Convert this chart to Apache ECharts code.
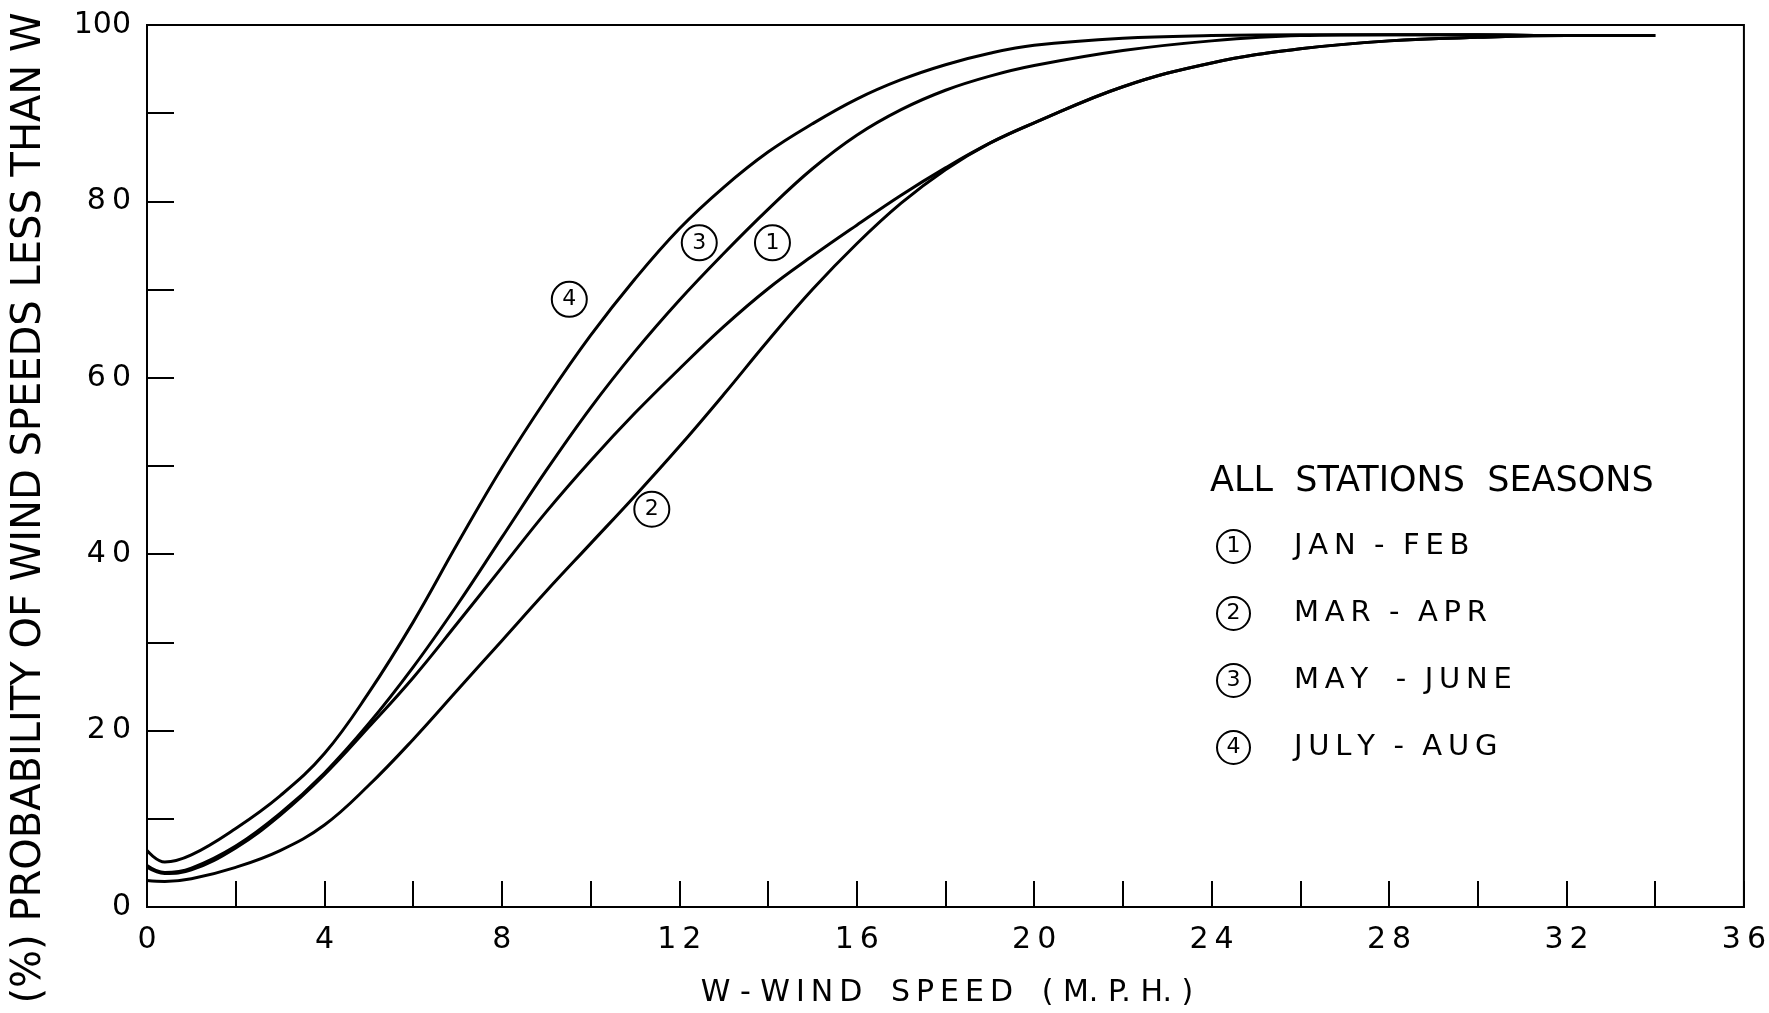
<!DOCTYPE html>
<html>
<head>
<meta charset="utf-8">
<title>Probability of wind speeds less than W</title>
<script src="https://cdn.jsdelivr.net/npm/echarts@6/dist/echarts.min.js"></script>
<style>
  html, body { margin: 0; padding: 0; background: #fff; }
  #chart { width: 1769px; height: 1013px; }
</style>
</head>
<body>
<div id="chart"></div>
<script>
// Wind speed W (m.p.h.) at which each seasonal curve is sampled
const windSpeed = [0, 0.4, 1, 2, 3, 4, 5, 6, 7, 8, 9, 10, 11, 12, 13, 14, 15, 16, 17, 18, 19, 20, 22, 24, 26, 28, 30, 32, 34];

// Cumulative probability (%) of wind speeds less than W, per season
const janFeb  = [4.5, 3.8, 4.2, 6.7, 10.4, 15.0, 20.4, 26.0, 32.2, 38.5, 44.8, 50.6, 56.0, 61.0, 65.8, 70.1, 73.8, 77.3, 80.7, 83.8, 86.6, 88.9, 93.0, 95.7, 97.3, 98.2, 98.6, 98.8, 98.8];
const marApr  = [3.0, 2.9, 3.2, 4.5, 6.4, 9.3, 13.8, 19.0, 24.6, 30.2, 35.8, 41.2, 46.6, 52.2, 58.1, 64.2, 70.0, 75.2, 79.8, 83.6, 86.6, 88.9, 93.0, 95.7, 97.3, 98.2, 98.6, 98.8, 98.8];
const mayJune = [4.7, 3.9, 4.4, 6.9, 10.6, 15.2, 20.8, 27.2, 34.3, 41.9, 49.5, 56.6, 63.0, 68.8, 74.1, 79.1, 83.7, 87.5, 90.4, 92.6, 94.2, 95.4, 97.1, 98.2, 98.8, 98.9, 98.9, 98.8, 98.8];
const julyAug = [6.4, 5.1, 5.9, 8.9, 12.6, 17.4, 24.3, 32.3, 41.2, 49.8, 57.6, 64.8, 71.2, 76.9, 81.6, 85.6, 88.8, 91.6, 93.8, 95.5, 96.8, 97.7, 98.5, 98.8, 98.9, 98.9, 98.9, 98.8, 98.8];

const seasonNames  = ['JAN - FEB', 'MAR - APR', 'MAY - JUNE', 'JULY - AUG'];
const seasonNumber = ['1', '2', '3', '4'];
const seasonValues = [janFeb, marApr, mayJune, julyAug];

// Tick labels
const xTickLabels = ['0', '4', '8', '12', '16', '20', '24', '28', '32', '36'];
const yTickLabels = ['0', '20', '40', '60', '80', '100'];

// Where each circled curve number sits, in chart units [W, %]
const curveTagAt = [[14.1, 75.3], [11.38, 45.1], [12.45, 75.3], [9.52, 68.9]];

const FONT = 'DejaVu Sans';
const INK = '#000';
const THIN = '\u2009';

// Open up the lettering a little, the way hand-stencilled captions are spaced
const spaced = s => s.split(' ').map(w => w.split('').join(THIN)).join(' ');
const legendText = name => {
  const parts = name.split(' - ');
  return spaced(parts[0]) + (parts[0] === 'MAY' ? '   -  ' : '  -  ') + spaced(parts[1]);
};

const chart = echarts.init(document.getElementById('chart'), null, { renderer: 'canvas' });

const series = seasonValues.map((vals, i) => ({
  name: seasonNames[i],
  type: 'line',
  data: windSpeed.map((w, k) => [w, vals[k]]),
  smooth: 0.4,
  showSymbol: false,
  symbol: 'none',
  silent: true,
  lineStyle: { color: INK, width: 3 },
  itemStyle: { color: INK },
  z: 3,
  markPoint: {
    silent: true,
    symbol: 'circle',
    symbolSize: 35,
    itemStyle: { color: '#fff', borderColor: INK, borderWidth: 2 },
    label: {
      show: true, position: 'inside', color: INK,
      fontFamily: FONT, fontSize: 22,
      formatter: seasonNumber[i]
    },
    data: [{ coord: curveTagAt[i] }]
  }
}));

chart.setOption({
  animation: false,
  backgroundColor: '#fff',
  grid: {
    left: 147, right: 25, top: 25, bottom: 106,
    show: true, borderColor: INK, borderWidth: 2, backgroundColor: 'transparent'
  },
  title: {
    text: 'ALL  STATIONS  SEASONS',
    left: 1205, top: 459,
    textStyle: { fontFamily: FONT, fontSize: 35, fontWeight: 'normal', color: INK }
  },
  legend: {
    orient: 'vertical',
    left: 1207, top: 524,
    icon: 'none',
    itemWidth: 0, itemHeight: 34,
    itemGap: 32,
    selectedMode: false,
    data: seasonNames,
    formatter: name => '{c|' + seasonNumber[seasonNames.indexOf(name)] + '}{t|' + legendText(name) + '}',
    textStyle: {
      color: INK,
      rich: {
        c: {
          width: 33, height: 33, align: 'center', verticalAlign: 'middle',
          borderColor: INK, borderWidth: 2, borderRadius: 18,
          fontFamily: FONT, fontSize: 22, color: INK
        },
        t: {
          padding: [0, 0, 0, 44],
          fontFamily: FONT, fontSize: 29, color: INK
        }
      }
    }
  },
  xAxis: {
    type: 'value',
    min: 0, max: 36, interval: 2,
    axisLine: { show: true, lineStyle: { color: INK, width: 2 } },
    axisTick: { show: true, inside: true, length: 26, lineStyle: { color: INK, width: 2 } },
    splitLine: { show: false },
    axisLabel: {
      margin: 18, color: INK, fontFamily: FONT, fontSize: 30,
      formatter: v => {
        const s = String(v);
        return xTickLabels.indexOf(s) >= 0 ? s.split('').join(THIN) : '';
      }
    }
  },
  yAxis: {
    type: 'value',
    min: 0, max: 100, interval: 10,
    axisLine: { show: true, lineStyle: { color: INK, width: 2 } },
    axisTick: { show: true, inside: true, length: 27, lineStyle: { color: INK, width: 2 } },
    splitLine: { show: false },
    axisLabel: {
      margin: 16, color: INK, fontFamily: FONT, fontSize: 30,
      formatter: v => {
        const s = String(v);
        if (yTickLabels.indexOf(s) < 0) return '';
        return s.length === 2 ? s.split('').join(THIN) : s;
      }
    }
  },
  graphic: [
    {
      type: 'text',
      x: 30, y: 508,
      rotation: Math.PI / 2,
      silent: true,
      style: {
        text: '(%) PROBABILITY OF WIND SPEEDS LESS THAN W',
        fontFamily: FONT, fontSize: 40, fill: INK,
        align: 'center', verticalAlign: 'middle'
      }
    },
    {
      type: 'text',
      x: 947, y: 993,
      silent: true,
      style: {
        text: 'W - ' + spaced('WIND') + '   ' + spaced('SPEED') + '   ( M. P. H. )',
        fontFamily: FONT, fontSize: 30, fill: INK,
        align: 'center', verticalAlign: 'middle'
      }
    }
  ],
  series: series
});
</script>
</body>
</html>
